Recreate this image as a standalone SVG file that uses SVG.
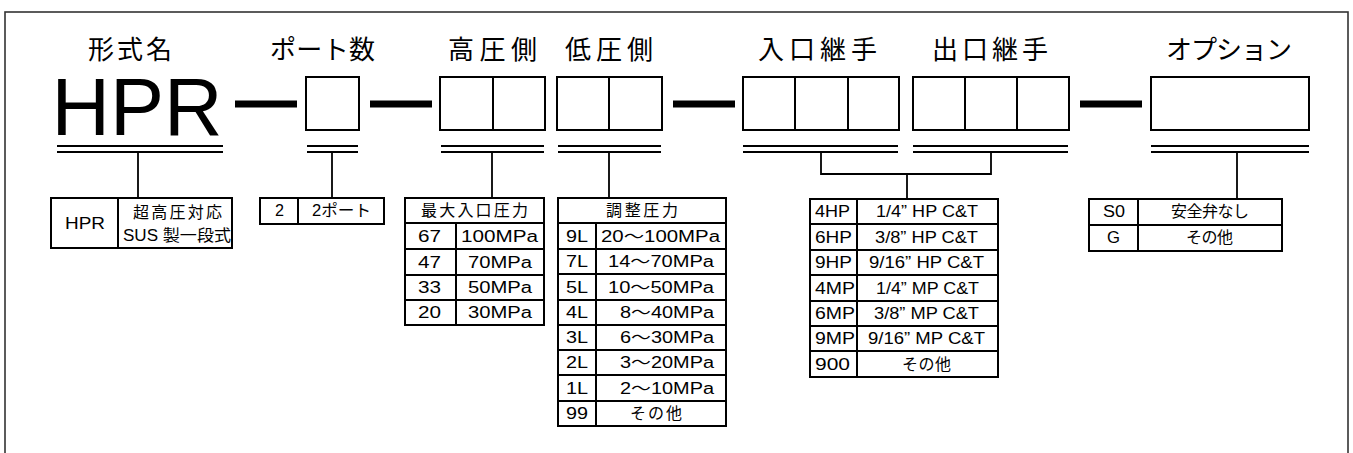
<svg xmlns="http://www.w3.org/2000/svg" width="1353" height="453" viewBox="0 0 1353 453">
<style>
.frame{fill:none;stroke:#333;stroke-width:1.6}
.box{fill:#fff;stroke:#000;stroke-width:2}
.ln{stroke:#000;stroke-width:2;fill:none}
.bar{stroke:#000;stroke-width:7}
.ul{stroke:#000;stroke-width:2.2}
.conn{stroke:#000;stroke-width:1.8;fill:none}
text{font-family:"Liberation Sans","Noto Sans CJK JP",sans-serif;fill:#000}
.t{font-size:16px}
.j{font-size:16px}
.title{font-size:26px}
.big{font-size:81px}
</style>
<rect class="frame" x="5" y="12" width="1343" height="470"/>

<g id="hpr">
  <text class="title" x="88" y="59" textLength="84" lengthAdjust="spacing">形式名</text>
  <text class="big" x="137" y="135" text-anchor="middle">HPR</text>
  <line class="ul" x1="57" y1="146" x2="223" y2="146"/>
  <line class="ul" x1="57" y1="152" x2="223" y2="152"/>
</g>
<g id="port">
  <text class="title" x="270" y="59" textLength="105" lengthAdjust="spacing">ポート数</text>
  <rect class="box" x="306" y="77" width="53" height="53"/>
  <line class="ul" x1="307" y1="146" x2="358" y2="146"/>
  <line class="ul" x1="307" y1="152" x2="358" y2="152"/>
</g>
<g id="high">
  <text class="title" x="448" y="59" textLength="89" lengthAdjust="spacing">高圧側</text>
  <rect class="box" x="440" y="77" width="105" height="53"/>
  <line class="ln" x1="493" y1="77" x2="493" y2="130"/>
  <line class="ul" x1="441" y1="146" x2="544" y2="146"/>
  <line class="ul" x1="441" y1="152" x2="544" y2="152"/>
</g>
<g id="low">
  <text class="title" x="565" y="59" textLength="88" lengthAdjust="spacing">低圧側</text>
  <rect class="box" x="557" y="77" width="105" height="53"/>
  <line class="ln" x1="609" y1="77" x2="609" y2="130"/>
  <line class="ul" x1="558" y1="146" x2="661" y2="146"/>
  <line class="ul" x1="558" y1="152" x2="661" y2="152"/>
</g>
<g id="inlet">
  <text class="title" x="758" y="59" textLength="119" lengthAdjust="spacing">入口継手</text>
  <rect class="box" x="743" y="77" width="156" height="53"/>
  <line class="ln" x1="795" y1="77" x2="795" y2="130"/>
  <line class="ln" x1="848" y1="77" x2="848" y2="130"/>
  <line class="ul" x1="743" y1="146" x2="898" y2="146"/>
  <line class="ul" x1="743" y1="152" x2="898" y2="152"/>
</g>
<g id="outlet">
  <text class="title" x="932" y="59" textLength="116" lengthAdjust="spacing">出口継手</text>
  <rect class="box" x="913" y="77" width="156" height="53"/>
  <line class="ln" x1="965" y1="77" x2="965" y2="130"/>
  <line class="ln" x1="1017" y1="77" x2="1017" y2="130"/>
  <line class="ul" x1="913" y1="146" x2="1068" y2="146"/>
  <line class="ul" x1="913" y1="152" x2="1068" y2="152"/>
</g>
<g id="option">
  <text class="title" x="1166" y="59" textLength="126" lengthAdjust="spacing">オプション</text>
  <rect class="box" x="1151" y="77" width="158" height="53"/>
  <line class="ul" x1="1151" y1="146" x2="1309" y2="146"/>
  <line class="ul" x1="1151" y1="152" x2="1309" y2="152"/>
</g>

<g id="connectors">
  <line class="bar" x1="235" y1="104" x2="297" y2="104"/>
  <line class="bar" x1="370" y1="104" x2="432" y2="104"/>
  <line class="bar" x1="673" y1="104" x2="735" y2="104"/>
  <line class="bar" x1="1080" y1="104" x2="1142" y2="104"/>
  <line class="conn" x1="138" y1="153" x2="138" y2="198"/>
  <line class="conn" x1="332" y1="153" x2="332" y2="198"/>
  <line class="conn" x1="492" y1="153" x2="492" y2="198"/>
  <line class="conn" x1="609" y1="153" x2="609" y2="198"/>
  <polyline class="conn" points="821,153 821,174 991,174 991,153"/>
  <line class="conn" x1="907" y1="174" x2="907" y2="199"/>
  <line class="conn" x1="1237" y1="153" x2="1237" y2="199"/>
</g>

<g id="table-hpr">
  <rect class="box" x="51" y="198" width="181" height="50"/>
  <line class="ln" x1="118" y1="198" x2="118" y2="248"/>
  <text class="t" x="65" y="229" textLength="40" lengthAdjust="spacingAndGlyphs">HPR</text>
  <text class="j" x="133" y="218" textLength="89" lengthAdjust="spacing">超高圧対応</text>
  <text class="t" x="123" y="241" textLength="108" lengthAdjust="spacingAndGlyphs">SUS 製一段式</text>
</g>
<g id="table-port">
  <rect class="box" x="260" y="198" width="124" height="26"/>
  <line class="ln" x1="298" y1="198" x2="298" y2="224"/>
  <text class="t" x="275" y="216" textLength="9" lengthAdjust="spacingAndGlyphs">2</text>
  <text class="t" x="312" y="216" textLength="59" lengthAdjust="spacingAndGlyphs">2ポート</text>
</g>
<g id="table-max">
  <rect class="box" x="405" y="198" width="139" height="127"/>
  <line class="ln" x1="405" y1="223" x2="544" y2="223"/>
  <line class="ln" x1="405" y1="249" x2="544" y2="249"/>
  <line class="ln" x1="405" y1="275" x2="544" y2="275"/>
  <line class="ln" x1="405" y1="300" x2="544" y2="300"/>
  <line class="ln" x1="456" y1="223" x2="456" y2="325"/>
  <text class="j" x="421" y="216" textLength="107" lengthAdjust="spacing">最大入口圧力</text>
  <text class="t" x="418" y="242" textLength="23" lengthAdjust="spacingAndGlyphs">67</text>
  <text class="t" x="461" y="242" textLength="77" lengthAdjust="spacingAndGlyphs">100MPa</text>
  <text class="t" x="418" y="268" textLength="23" lengthAdjust="spacingAndGlyphs">47</text>
  <text class="t" x="468" y="268" textLength="64" lengthAdjust="spacingAndGlyphs">70MPa</text>
  <text class="t" x="418" y="293" textLength="23" lengthAdjust="spacingAndGlyphs">33</text>
  <text class="t" x="468" y="293" textLength="64" lengthAdjust="spacingAndGlyphs">50MPa</text>
  <text class="t" x="418" y="318" textLength="23" lengthAdjust="spacingAndGlyphs">20</text>
  <text class="t" x="468" y="318" textLength="64" lengthAdjust="spacingAndGlyphs">30MPa</text>
</g>
<g id="table-adj">
  <rect class="box" x="558" y="198" width="168" height="228"/>
  <line class="ln" x1="558" y1="223" x2="726" y2="223"/>
  <line class="ln" x1="558" y1="249" x2="726" y2="249"/>
  <line class="ln" x1="558" y1="274" x2="726" y2="274"/>
  <line class="ln" x1="558" y1="300" x2="726" y2="300"/>
  <line class="ln" x1="558" y1="325" x2="726" y2="325"/>
  <line class="ln" x1="558" y1="350" x2="726" y2="350"/>
  <line class="ln" x1="558" y1="375" x2="726" y2="375"/>
  <line class="ln" x1="558" y1="401" x2="726" y2="401"/>
  <line class="ln" x1="596" y1="223" x2="596" y2="426"/>
  <text class="j" x="606" y="216" textLength="72" lengthAdjust="spacing">調整圧力</text>
  <text class="t" x="566" y="242" textLength="22" lengthAdjust="spacingAndGlyphs">9L</text>
  <text class="t" x="601" y="242" textLength="119" lengthAdjust="spacingAndGlyphs">20～100MPa</text>
  <text class="t" x="566" y="267" textLength="22" lengthAdjust="spacingAndGlyphs">7L</text>
  <text class="t" x="608" y="267" textLength="106" lengthAdjust="spacingAndGlyphs">14～70MPa</text>
  <text class="t" x="566" y="293" textLength="22" lengthAdjust="spacingAndGlyphs">5L</text>
  <text class="t" x="608" y="293" textLength="106" lengthAdjust="spacingAndGlyphs">10～50MPa</text>
  <text class="t" x="566" y="318" textLength="22" lengthAdjust="spacingAndGlyphs">4L</text>
  <text class="t" x="620" y="318" textLength="94" lengthAdjust="spacingAndGlyphs">8～40MPa</text>
  <text class="t" x="566" y="343" textLength="22" lengthAdjust="spacingAndGlyphs">3L</text>
  <text class="t" x="620" y="343" textLength="94" lengthAdjust="spacingAndGlyphs">6～30MPa</text>
  <text class="t" x="566" y="368" textLength="22" lengthAdjust="spacingAndGlyphs">2L</text>
  <text class="t" x="620" y="368" textLength="94" lengthAdjust="spacingAndGlyphs">3～20MPa</text>
  <text class="t" x="566" y="394" textLength="22" lengthAdjust="spacingAndGlyphs">1L</text>
  <text class="t" x="620" y="394" textLength="94" lengthAdjust="spacingAndGlyphs">2～10MPa</text>
  <text class="t" x="566" y="419" textLength="22" lengthAdjust="spacingAndGlyphs">99</text>
  <text class="j" x="630" y="419" textLength="52" lengthAdjust="spacing">その他</text>
</g>
<g id="table-fitting">
  <rect class="box" x="810" y="199" width="188" height="178"/>
  <line class="ln" x1="810" y1="224" x2="998" y2="224"/>
  <line class="ln" x1="810" y1="250" x2="998" y2="250"/>
  <line class="ln" x1="810" y1="275" x2="998" y2="275"/>
  <line class="ln" x1="810" y1="301" x2="998" y2="301"/>
  <line class="ln" x1="810" y1="326" x2="998" y2="326"/>
  <line class="ln" x1="810" y1="351" x2="998" y2="351"/>
  <line class="ln" x1="857" y1="199" x2="857" y2="377"/>
  <text class="t" x="815" y="217" textLength="35" lengthAdjust="spacingAndGlyphs">4HP</text>
  <text class="t" x="876" y="217" textLength="102" lengthAdjust="spacingAndGlyphs">1/4” HP C&amp;T</text>
  <text class="t" x="815" y="243" textLength="37" lengthAdjust="spacingAndGlyphs">6HP</text>
  <text class="t" x="875" y="243" textLength="103" lengthAdjust="spacingAndGlyphs">3/8” HP C&amp;T</text>
  <text class="t" x="815" y="268" textLength="37" lengthAdjust="spacingAndGlyphs">9HP</text>
  <text class="t" x="869" y="268" textLength="115" lengthAdjust="spacingAndGlyphs">9/16” HP C&amp;T</text>
  <text class="t" x="815" y="294" textLength="40" lengthAdjust="spacingAndGlyphs">4MP</text>
  <text class="t" x="876" y="294" textLength="103" lengthAdjust="spacingAndGlyphs">1/4” MP C&amp;T</text>
  <text class="t" x="815" y="319" textLength="40" lengthAdjust="spacingAndGlyphs">6MP</text>
  <text class="t" x="874" y="319" textLength="105" lengthAdjust="spacingAndGlyphs">3/8” MP C&amp;T</text>
  <text class="t" x="815" y="344" textLength="40" lengthAdjust="spacingAndGlyphs">9MP</text>
  <text class="t" x="868" y="344" textLength="117" lengthAdjust="spacingAndGlyphs">9/16” MP C&amp;T</text>
  <text class="t" x="815" y="370" textLength="35" lengthAdjust="spacingAndGlyphs">900</text>
  <text class="j" x="902" y="370" textLength="49" lengthAdjust="spacing">その他</text>
</g>
<g id="table-option">
  <rect class="box" x="1089" y="199" width="193" height="52"/>
  <line class="ln" x1="1089" y1="225" x2="1282" y2="225"/>
  <line class="ln" x1="1138" y1="199" x2="1138" y2="251"/>
  <text class="t" x="1103" y="217" textLength="22" lengthAdjust="spacingAndGlyphs">S0</text>
  <text class="j" x="1171" y="217" textLength="78" lengthAdjust="spacing">安全弁なし</text>
  <text class="t" x="1107" y="243" textLength="13" lengthAdjust="spacingAndGlyphs">G</text>
  <text class="j" x="1186" y="243" textLength="47" lengthAdjust="spacing">その他</text>
</g>
</svg>
